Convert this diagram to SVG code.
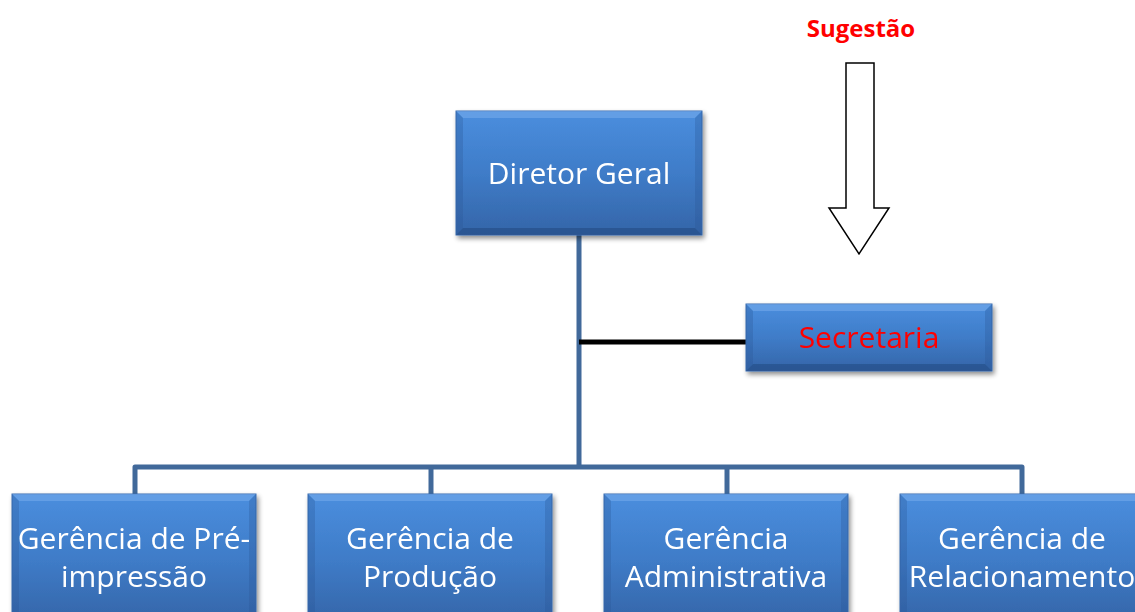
<svg xmlns="http://www.w3.org/2000/svg" width="1135" height="612" viewBox="0 0 1135 612">
<defs>
<linearGradient id="g" x1="0" y1="0" x2="0" y2="1">
<stop offset="0" stop-color="#4A8EDE"/>
<stop offset="0.5" stop-color="#3F7CC8"/>
<stop offset="1" stop-color="#3465A8"/>
</linearGradient>
<filter id="sh" x="-10%" y="-10%" width="125%" height="130%">
<feGaussianBlur in="SourceAlpha" stdDeviation="2.5"/>
<feOffset dx="2" dy="3"/>
<feComponentTransfer><feFuncA type="linear" slope="0.45"/></feComponentTransfer>
<feMerge><feMergeNode/><feMergeNode in="SourceGraphic"/></feMerge>
</filter>
<style>
.box{fill:url(#g);stroke:#3A6CB0;stroke-width:1}
.bt{fill:#7DB0EE;opacity:0.5}
.bb{fill:#1F3F70;opacity:0.4}
.bs{fill:#2B5694;opacity:0.3}
.t{font-family:"Open Sans","Liberation Sans",sans-serif;font-size:30px;fill:#FFFFFF;text-anchor:middle}
.conn{stroke:#41699A;stroke-width:5;fill:none;stroke-linejoin:round}
</style>
</defs>
<rect width="1135" height="612" fill="#FFFFFF"/>

<g id="connectors">
<path class="conn" d="M579 235 V467"/>
<path class="conn" d="M135 494 V467 H1022 V494"/>
<path class="conn" d="M431 467 V494"/>
<path class="conn" d="M727 467 V494"/>
<path d="M579 342 H746" stroke="#000000" stroke-width="5"/>
</g>

<g id="sugestao">
<text x="861" y="37" font-family="'Open Sans','Liberation Sans',sans-serif" font-size="24" font-weight="bold" fill="#FF0000" text-anchor="middle">Sugestão</text>
<polygon points="846,63 874,63 874,208 889,208 859,254 829,208 846,208" fill="#FFFFFF" stroke="#000000" stroke-width="1.5"/>
</g>

<g id="diretor" filter="url(#sh)">
<rect class="box" x="456" y="111" width="246" height="124"/>
<polygon class="bt" points="456,111 702,111 695,118 463,118"/>
<polygon class="bb" points="456,235 702,235 695,228 463,228"/>
<polygon class="bs" points="456,111 463,118 463,228 456,235"/>
<polygon class="bs" points="702,111 695,118 695,228 702,235"/>
<text class="t" x="579" y="184">Diretor Geral</text>
</g>

<g id="secretaria" filter="url(#sh)">
<rect class="box" x="746" y="304" width="246" height="67"/>
<polygon class="bt" points="746,304 992,304 985,311 753,311"/>
<polygon class="bb" points="746,371 992,371 985,364 753,364"/>
<polygon class="bs" points="746,304 753,311 753,364 746,371"/>
<polygon class="bs" points="992,304 985,311 985,364 992,371"/>
<text class="t" x="869" y="348" style="fill:#FF0000">Secretaria</text>
</g>

<g id="ger-pre" filter="url(#sh)">
<rect class="box" x="12" y="494" width="244" height="130"/>
<polygon class="bt" points="12,494 256,494 249,501 19,501"/>
<polygon class="bs" points="12,494 19,501 19,624 12,624"/>
<polygon class="bs" points="256,494 249,501 249,624 256,624"/>
<text class="t" x="134" y="549">Gerência de Pré-</text>
<text class="t" x="134" y="587">impressão</text>
</g>

<g id="ger-prod" filter="url(#sh)">
<rect class="box" x="308" y="494" width="244" height="130"/>
<polygon class="bt" points="308,494 552,494 545,501 315,501"/>
<polygon class="bs" points="308,494 315,501 315,624 308,624"/>
<polygon class="bs" points="552,494 545,501 545,624 552,624"/>
<text class="t" x="430" y="549">Gerência de</text>
<text class="t" x="430" y="587">Produção</text>
</g>

<g id="ger-adm" filter="url(#sh)">
<rect class="box" x="604" y="494" width="244" height="130"/>
<polygon class="bt" points="604,494 848,494 841,501 611,501"/>
<polygon class="bs" points="604,494 611,501 611,624 604,624"/>
<polygon class="bs" points="848,494 841,501 841,624 848,624"/>
<text class="t" x="726" y="549">Gerência</text>
<text class="t" x="726" y="587">Administrativa</text>
</g>

<g id="ger-rel" filter="url(#sh)">
<rect class="box" x="900" y="494" width="244" height="130"/>
<polygon class="bt" points="900,494 1144,494 1137,501 907,501"/>
<polygon class="bs" points="900,494 907,501 907,624 900,624"/>
<text class="t" x="1022" y="549">Gerência de</text>
<text class="t" x="1022" y="587">Relacionamento</text>
</g>
</svg>
